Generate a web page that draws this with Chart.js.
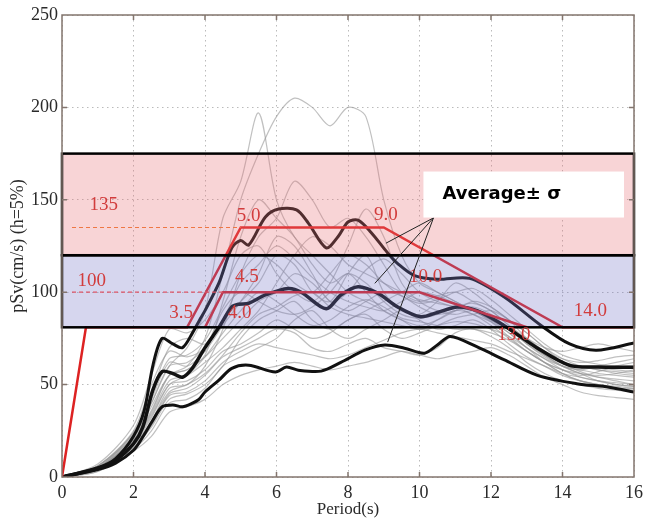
<!DOCTYPE html>
<html>
<head>
<meta charset="utf-8">
<script src="https://cdn.jsdelivr.net/npm/chart.js@4.4.0/dist/chart.umd.min.js"></script>
<style>
  html, body { margin: 0; padding: 0; background: #fff; }
  canvas { display: block; }
</style>
</head>
<body>
<canvas id="chart" width="648" height="525"></canvas>
<script>
// Design spectrum (red)
const specUpperX = [0, 0.67, 3.5, 5.0, 9.0, 14.0, 16];
const specUpperY = [0, 81, 81, 135, 135, 81, 81];
const specLowerX = [4.0, 4.5, 10.0, 13.0];
const specLowerY = [81, 100, 100, 81];

// Average +/- sigma curves (black)
const avgPlusX = [0, 1, 1.5, 2, 2.3, 2.55, 2.8, 3.1, 3.37, 3.65, 3.85, 4.0, 4.39, 4.75, 5.0, 5.22, 5.69, 6.06, 6.56, 6.89, 7.39, 7.72, 8.0, 8.28, 8.64, 9.1, 9.39, 9.86, 10.5, 11.4, 12.36, 13.4, 14.2, 14.95, 16];
const avgPlusY = [0, 5, 10, 22, 36, 61, 75, 72, 70, 78, 85, 90, 105, 124, 128, 125.5, 140.7, 145, 144.5, 137.4, 124, 130, 138, 139, 132.5, 121.5, 115.5, 109, 107, 107.5, 97.5, 82, 72, 68.6, 72.5];
const avgX = [0, 1, 1.5, 2, 2.26, 2.54, 2.8, 3.1, 3.37, 3.65, 4.0, 4.39, 4.75, 4.94, 5.22, 5.69, 6.33, 6.69, 7.39, 7.8, 8.28, 8.83, 9.39, 10.03, 10.5, 11.06, 11.61, 12.36, 13.28, 14.2, 15, 16];
const avgY = [0, 4.5, 9, 18, 27, 47, 57, 56, 54, 59, 70, 81, 92, 93.5, 94, 98.5, 102, 100, 91, 98.5, 103, 99.5, 92, 86.7, 89, 92, 90, 82, 70, 60.4, 59.5, 59.4];
const avgMinusX = [0, 1, 1.5, 2, 2.26, 2.54, 2.8, 3.1, 3.37, 3.65, 3.83, 4.0, 4.39, 4.75, 5.22, 5.97, 6.28, 6.61, 7.25, 7.8, 8.47, 9.03, 9.58, 10.14, 10.5, 10.86, 11.6, 12.36, 13.3, 14.4, 15.3, 16];
const avgMinusY = [0, 4, 7.5, 14.5, 21.7, 30.7, 38, 39, 38, 40, 42, 46, 52.4, 58.8, 60.5, 56.8, 59.5, 57.8, 57.3, 62, 68.6, 71.4, 69.7, 67, 71.4, 76, 70.5, 63.5, 55, 50.5, 48.6, 46];

// Individual records (gray)
const recordX = [0, 1, 2, 2.5, 3, 3.5, 4, 4.5, 5, 5.5, 6, 6.5, 7, 7.5, 8, 8.5, 9, 9.5, 10, 10.5, 11, 11.5, 12, 12.5, 13, 13.5, 14, 14.5, 15, 15.5, 16];
const records = [
  [0, 5, 20, 35, 55, 60, 75, 110, 150, 175, 195, 205, 200, 190, 200, 195, 150, 120, 105, 100, 95, 90, 85, 80, 72, 65, 60, 58, 56, 55, 54],
  [0, 6, 22, 40, 60, 70, 90, 140, 160, 197, 150, 130, 120, 110, 100, 95, 90, 85, 80, 85, 90, 88, 82, 75, 68, 62, 58, 55, 57, 60, 62],
  [0, 4, 18, 30, 48, 50, 60, 80, 110, 130, 140, 160, 150, 135, 140, 130, 115, 100, 95, 98, 100, 95, 90, 82, 75, 68, 62, 60, 58, 56, 55],
  [0, 5, 24, 45, 70, 75, 72, 85, 95, 105, 120, 115, 100, 95, 110, 120, 100, 90, 88, 95, 105, 100, 92, 85, 75, 68, 64, 62, 63, 65, 66],
  [0, 3, 15, 25, 40, 42, 48, 60, 65, 70, 75, 85, 90, 80, 75, 80, 85, 90, 85, 80, 82, 85, 80, 72, 65, 60, 55, 52, 50, 48, 47],
  [0, 7, 28, 55, 80, 78, 85, 100, 120, 125, 110, 100, 95, 105, 125, 145, 130, 105, 95, 90, 88, 90, 85, 78, 70, 64, 60, 58, 60, 62, 64],
  [0, 4, 17, 28, 45, 48, 55, 65, 70, 75, 80, 78, 70, 68, 72, 75, 70, 68, 66, 70, 78, 80, 76, 70, 62, 56, 52, 50, 48, 47, 46],
  [0, 5, 21, 38, 55, 58, 65, 75, 85, 95, 100, 110, 105, 95, 90, 95, 100, 98, 92, 88, 90, 92, 88, 80, 72, 66, 62, 60, 59, 58, 57],
  [0, 6, 25, 50, 68, 65, 70, 90, 100, 95, 90, 88, 92, 100, 110, 100, 90, 85, 82, 85, 90, 95, 92, 85, 78, 70, 64, 60, 58, 57, 56],
  [0, 4, 16, 27, 42, 45, 50, 60, 75, 85, 90, 95, 85, 80, 85, 90, 95, 100, 105, 100, 95, 90, 85, 80, 75, 70, 68, 70, 72, 70, 68],
  [0, 5, 20, 34, 52, 55, 62, 70, 80, 90, 105, 120, 130, 125, 115, 110, 105, 100, 96, 94, 92, 88, 84, 78, 70, 62, 56, 52, 50, 48, 48],
  [0, 4, 19, 33, 50, 52, 58, 68, 72, 78, 85, 80, 75, 78, 85, 88, 80, 75, 78, 82, 86, 88, 90, 85, 78, 70, 62, 57, 54, 52, 50],
  [0, 6, 23, 42, 62, 60, 68, 82, 95, 110, 130, 125, 110, 95, 100, 112, 118, 110, 100, 95, 92, 90, 86, 80, 73, 66, 60, 56, 54, 53, 52],
  [0, 3, 14, 22, 35, 38, 42, 50, 55, 58, 60, 62, 60, 58, 60, 62, 65, 68, 66, 64, 66, 68, 70, 66, 60, 54, 50, 46, 44, 43, 42],
  [0, 5, 22, 40, 60, 62, 70, 85, 105, 115, 125, 118, 108, 100, 95, 92, 90, 95, 100, 98, 94, 90, 84, 76, 68, 62, 58, 56, 55, 56, 58],
  [0, 4, 18, 32, 50, 55, 65, 78, 90, 100, 95, 88, 82, 85, 92, 96, 92, 86, 84, 82, 80, 80, 78, 74, 68, 62, 56, 52, 50, 49, 48],
  [0, 5, 20, 36, 55, 58, 66, 95, 130, 150, 140, 130, 115, 105, 110, 105, 95, 88, 86, 88, 92, 94, 90, 82, 74, 66, 60, 56, 52, 50, 49],
  [0, 4, 17, 30, 46, 50, 56, 66, 78, 88, 92, 98, 100, 92, 88, 86, 84, 82, 80, 82, 84, 83, 80, 76, 70, 64, 58, 54, 52, 50, 49],
  [0, 6, 24, 44, 64, 66, 74, 92, 110, 120, 115, 105, 100, 110, 120, 115, 105, 98, 94, 96, 100, 102, 96, 88, 80, 72, 66, 63, 61, 60, 60],
  [0, 4, 16, 28, 44, 46, 52, 62, 68, 72, 70, 68, 66, 64, 66, 70, 74, 78, 80, 78, 76, 74, 72, 68, 64, 60, 56, 54, 52, 51, 50]
];

// Shaded bands and reference levels
const bandLow = [120, 81];
const bandHigh = [175, 120];
const bandFill = ['rgba(232,112,118,0.3)', 'rgba(118,118,198,0.3)'];
const refLevel = [135, 100];
const refStart = [0.28, 0.28];
const refEnd = [5.0, 4.5];
const refColor = ['#ee7744', '#dd5566'];

// Red labels on the spectrum
const labelText = ['135', '100', '5.0', '9.0', '4.5', '10.0', '3.5', '4.0', '14.0', '13.0'];
const labelX = [1.17, 0.83, 5.22, 9.06, 5.17, 10.17, 3.33, 4.97, 14.78, 12.64];
const labelY = [147, 106, 141, 142, 108, 108, 89, 89, 90, 77];

// Annotation box and pointers
const noteText = 'Average\u00b1 \u03c3';
const noteBox = [10.11, 15.72, 165.3, 140.4];
const pointerFrom = [10.39, 140.2];
const pointerToX = [9.06, 8.75, 9.11];
const pointerToY = [126.5, 104.8, 73];

const xTicks = [0, 2, 4, 6, 8, 10, 12, 14, 16];
const yTicks = [0, 50, 100, 150, 200, 250];

const serif = "'Liberation Serif', 'Times New Roman', serif";

function pts(xs, ys) {
    return xs.map((x, i) => ({ x: x, y: ys[i] }));
}

const datasets = [];
datasets.push({ data: pts(specUpperX, specUpperY), borderColor: '#dd2222', borderWidth: 2.5, tension: 0, order: 0 });
datasets.push({ data: pts(specLowerX, specLowerY), borderColor: '#dd2222', borderWidth: 2.5, tension: 0, order: 0 });
datasets.push({ data: pts(avgPlusX, avgPlusY), borderColor: '#111', borderWidth: 3, tension: 0.3, order: 1 });
datasets.push({ data: pts(avgX, avgY), borderColor: '#111', borderWidth: 3.5, tension: 0.3, order: 1 });
datasets.push({ data: pts(avgMinusX, avgMinusY), borderColor: '#111', borderWidth: 3, tension: 0.3, order: 1 });
records.forEach(r => {
    datasets.push({ data: pts(recordX, r), borderColor: 'rgba(150,150,150,0.6)', borderWidth: 1.2, tension: 0.3, order: 2 });
});

const overlay = {
    id: 'overlay',
    afterDatasetsDraw(chart) {
        const { ctx, chartArea: a, scales: { x, y } } = chart;
        ctx.save();

        // bands over the curves
        bandLow.forEach((lo, i) => {
            const top = y.getPixelForValue(bandHigh[i]);
            const bot = y.getPixelForValue(lo);
            ctx.fillStyle = bandFill[i];
            ctx.fillRect(a.left, top, a.right - a.left, bot - top);
        });
        ctx.strokeStyle = '#000';
        ctx.lineWidth = 2.5;
        bandLow.forEach((lo, i) => {
            const top = y.getPixelForValue(bandHigh[i]);
            const bot = y.getPixelForValue(lo);
            ctx.strokeRect(a.left, top, a.right - a.left, bot - top);
        });

        // dashed reference levels
        ctx.lineWidth = 1.2;
        ctx.setLineDash([4, 3]);
        refLevel.forEach((v, i) => {
            ctx.strokeStyle = refColor[i];
            ctx.beginPath();
            ctx.moveTo(x.getPixelForValue(refStart[i]), y.getPixelForValue(v));
            ctx.lineTo(x.getPixelForValue(refEnd[i]), y.getPixelForValue(v));
            ctx.stroke();
        });
        ctx.setLineDash([]);

        // red labels
        ctx.fillStyle = '#d23c3c';
        ctx.font = '19px ' + serif;
        ctx.textAlign = 'center';
        ctx.textBaseline = 'middle';
        labelText.forEach((t, i) => {
            ctx.fillText(t, x.getPixelForValue(labelX[i]), y.getPixelForValue(labelY[i]));
        });

        // pointer lines
        ctx.strokeStyle = '#222';
        ctx.lineWidth = 1;
        const fx = x.getPixelForValue(pointerFrom[0]);
        const fy = y.getPixelForValue(pointerFrom[1]);
        pointerToX.forEach((px, i) => {
            ctx.beginPath();
            ctx.moveTo(fx, fy);
            ctx.lineTo(x.getPixelForValue(px), y.getPixelForValue(pointerToY[i]));
            ctx.stroke();
        });

        // annotation box
        const bx0 = x.getPixelForValue(noteBox[0]);
        const bx1 = x.getPixelForValue(noteBox[1]);
        const by0 = y.getPixelForValue(noteBox[2]);
        const by1 = y.getPixelForValue(noteBox[3]);
        ctx.fillStyle = '#fff';
        ctx.fillRect(bx0, by0, bx1 - bx0, by1 - by0);
        ctx.fillStyle = '#000';
        ctx.font = "bold 18px 'DejaVu Sans', sans-serif";
        ctx.textAlign = 'left';
        ctx.fillText(noteText, bx0 + 19, (by0 + by1) / 2);

        // frame and inward ticks
        ctx.strokeStyle = '#83756e';
        ctx.lineWidth = 1.5;
        ctx.strokeRect(a.left, a.top, a.right - a.left, a.bottom - a.top);
        ctx.beginPath();
        xTicks.slice(1, -1).forEach(v => {
            const px = x.getPixelForValue(v);
            ctx.moveTo(px, a.bottom); ctx.lineTo(px, a.bottom - 5);
            ctx.moveTo(px, a.top); ctx.lineTo(px, a.top + 5);
        });
        yTicks.slice(1, -1).forEach(v => {
            const py = y.getPixelForValue(v);
            ctx.moveTo(a.left, py); ctx.lineTo(a.left + 5, py);
            ctx.moveTo(a.right, py); ctx.lineTo(a.right - 5, py);
        });
        ctx.stroke();
        ctx.restore();
    }
};

const gridOpts = {
    color: 'rgba(150,150,150,0.65)',
    lineWidth: 1,
    drawTicks: false,
    tickLength: 0
};

new Chart(document.getElementById('chart'), {
    type: 'line',
    data: { datasets: datasets },
    options: {
        responsive: false,
        animation: false,
        devicePixelRatio: 1,
        layout: { padding: { top: 15, right: 10, left: 0, bottom: 0 } },
        elements: { point: { radius: 0 }, line: { fill: false } },
        plugins: { legend: { display: false }, tooltip: { enabled: false } },
        scales: {
            x: {
                type: 'linear',
                min: 0, max: 16,
                afterBuildTicks: s => { s.ticks = xTicks.map(v => ({ value: v })); },
                afterFit: s => { s.height = 48; },
                grid: gridOpts,
                border: { display: false, dash: [1.5, 3.5] },
                ticks: { color: '#2a2a2a', font: { family: serif, size: 18 }, padding: 5, maxRotation: 0, autoSkip: false },
                title: { display: true, text: 'Period(s)', color: '#2a2a2a', font: { family: serif, size: 17 }, padding: { top: 0, bottom: 5 } }
            },
            y: {
                min: 0, max: 250,
                afterBuildTicks: s => { s.ticks = yTicks.map(v => ({ value: v })); },
                afterFit: s => { s.width = 62; },
                grid: gridOpts,
                border: { display: false, dash: [1.5, 3.5] },
                ticks: { color: '#2a2a2a', font: { family: serif, size: 18 }, padding: 4 },
                title: { display: true, text: 'pSv(cm/s) (h=5%)', color: '#2a2a2a', font: { family: serif, size: 18 }, padding: { top: 7, bottom: 0 } }
            }
        }
    },
    plugins: [overlay]
});
</script>
</body>
</html>
